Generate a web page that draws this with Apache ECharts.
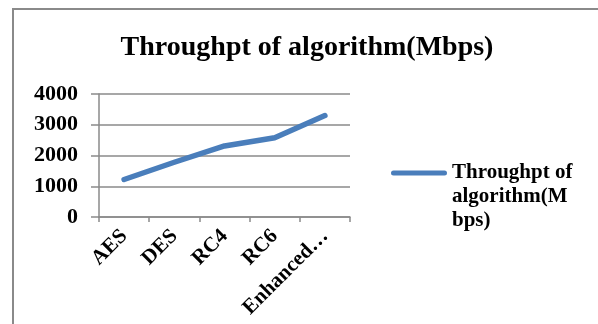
<!DOCTYPE html>
<html><head><meta charset="utf-8">
<script src="https://cdn.jsdelivr.net/npm/echarts@6/dist/echarts.min.js"></script>
<style>html,body{margin:0;padding:0;background:#fff}#c{width:598px;height:324px}</style>
</head><body><div id="c"></div>
<script>
const titleText = 'Throughpt of algorithm(Mbps)';
const categories = ['AES', 'DES', 'RC4', 'RC6', 'Enhanced…'];
const seriesName = 'Throughpt of algorithm(Mbps)';
const values = [1220, 1780, 2310, 2580, 3300];
const yTicks = [0, 1000, 2000, 3000, 4000];

const font = "'Liberation Serif', 'Times New Roman', serif";
const gray = '#8a8a8a';
const chart = echarts.init(document.getElementById('c'), null, {renderer: 'canvas'});
chart.setOption({
  animation: false,
  title: {
    text: titleText, left: 302, top: 29, textAlign: 'center',
    textStyle: {fontFamily: font, fontWeight: 'bold', fontSize: 28, color: '#000'}
  },
  graphic: [{
    type: 'rect', shape: {x: 13, y: 9, width: 700, height: 400},
    style: {fill: 'none', stroke: gray, lineWidth: 2}, silent: true
  }],
  legend: {
    left: 386, top: 156, itemWidth: 56, itemHeight: 72, itemGap: 0,
    icon: 'path://M2.5,9.5 L53.5,9.5 A2.5,2.5 0 0 1 53.5,14.5 L2.5,14.5 A2.5,2.5 0 0 1 2.5,9.5 Z M0,0 L0.01,0 Z M0,72 L0.01,72 Z',
    data: [seriesName],
    formatter: n => n.replace('Throughpt of ', 'Throughpt of\n').replace('(Mbps)', '(M\nbps)'),
    textStyle: {fontFamily: font, fontWeight: 'bold', fontSize: 21, color: '#000', lineHeight: 24}
  },
  grid: {left: 99, right: 248, top: 94, bottom: 107, containLabel: false},
  xAxis: {
    type: 'category', data: categories, boundaryGap: true,
    axisLine: {lineStyle: {color: gray, width: 1.5}},
    axisTick: {show: true, length: 5, alignWithLabel: false, lineStyle: {color: gray, width: 1.5}},
    axisLabel: {rotate: 45, interval: 0, margin: 16, fontFamily: font, fontWeight: 'bold', fontSize: 21, color: '#000'}
  },
  yAxis: {
    type: 'value', min: yTicks[0], max: yTicks[yTicks.length - 1], interval: yTicks[1] - yTicks[0],
    axisLine: {show: true, lineStyle: {color: gray, width: 1.5}},
    axisTick: {show: true, length: 8, lineStyle: {color: gray, width: 1.5}},
    splitLine: {lineStyle: {color: gray, width: 1.5}},
    axisLabel: {margin: 21, fontFamily: font, fontWeight: 'bold', fontSize: 22, color: '#000', formatter: v => String(v)}
  },
  series: [{
    name: seriesName, type: 'line', data: values, symbol: 'none',
    lineStyle: {color: '#4a7ebb', width: 5.5, cap: 'round', join: 'round'},
    itemStyle: {color: '#4a7ebb'}
  }]
});
</script></body></html>
